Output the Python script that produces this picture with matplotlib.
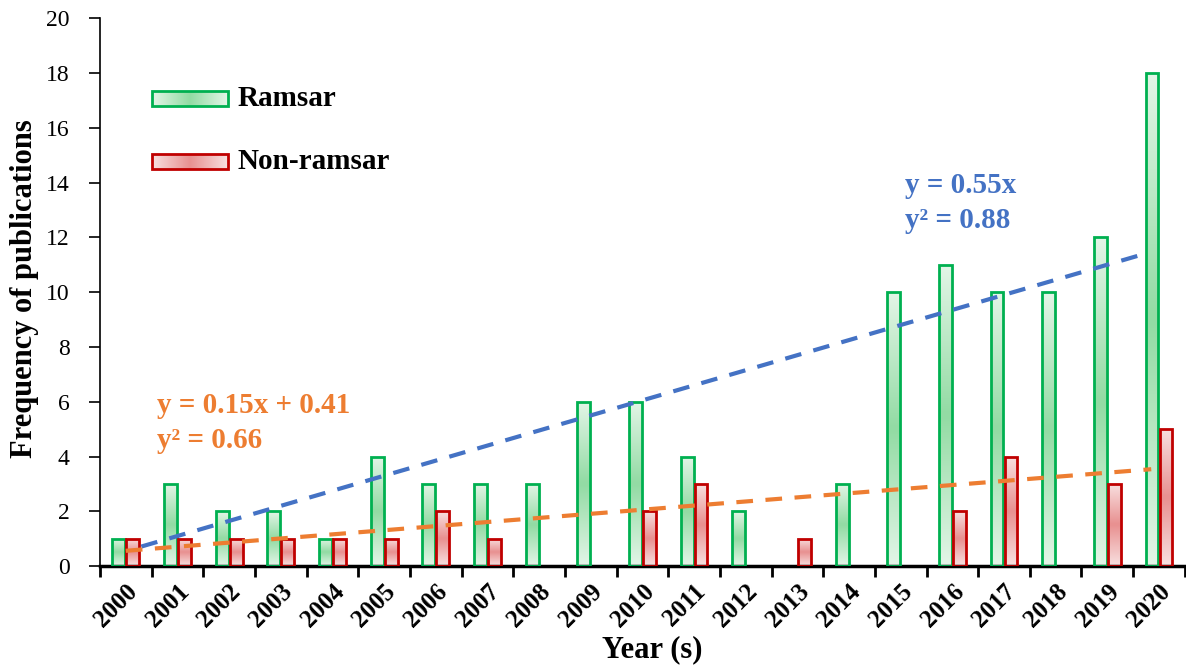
import numpy as np
import matplotlib
matplotlib.use("Agg")
import matplotlib.pyplot as plt
from matplotlib.patches import Rectangle
from matplotlib.colors import to_rgb

# ── Daten ─────────────────────────────────────────────────────────────────────
years = [str(y) for y in range(2000, 2021)]
ramsar = [1, 3, 2, 2, 1, 4, 3, 3, 3, 6, 6, 4, 2, 0, 3, 10, 11, 10, 10, 12, 18]
non_ramsar = [1, 1, 1, 1, 1, 1, 2, 1, 0, 0, 2, 3, 0, 1, 0, 0, 2, 4, 0, 3, 5]

# Trendlinien (aus der Grafik: y = a*x + b, x = 1..21)
ramsar_fit = (0.55, 0.0)
non_ramsar_fit = (0.15, 0.41)
ramsar_eq = ["y = 0.55x", "y² = 0.88"]
non_ramsar_eq = ["y = 0.15x + 0.41", "y² = 0.66"]

plt.rcParams["font.family"] = ["Liberation Serif", "DejaVu Serif"]

GREEN_EDGE, GREEN_LIGHT, GREEN_MID = "#00B050", "#E3F5E7", "#92DBA3"
RED_EDGE, RED_LIGHT, RED_MID = "#C00000", "#F8E0E0", "#E89090"
BLUE, ORANGE = "#4472C4", "#ED7D31"


def gradient(light, mid, n=64, horizontal=False):
    t = np.abs(np.linspace(-1, 1, n))[:, None]
    c = np.array(to_rgb(mid)) * (1 - t) + np.array(to_rgb(light)) * t
    return c[:, None, :] if not horizontal else c[None, :, :]


fig = plt.figure(figsize=(11.86, 6.70), dpi=100)
ax = fig.add_axes([0.0843, 0.155, 0.9147, 0.818])

x = np.arange(len(years))
w = 0.25
off = 0.135

# ── Balken mit Verlauf ────────────────────────────────────────────────────────
for xs, vals, edge, light, mid in [
    (x - off, ramsar, GREEN_EDGE, GREEN_LIGHT, GREEN_MID),
    (x + off, non_ramsar, RED_EDGE, RED_LIGHT, RED_MID),
]:
    vals = np.array(vals)
    keep = vals > 0          # Nullwerte werden nicht gezeichnet
    bars = ax.bar(xs[keep], vals[keep], width=w, facecolor="none",
                  edgecolor=edge, linewidth=2, zorder=3)
    img = gradient(light, mid)
    for b in bars:
        x0, y0 = b.get_x(), b.get_y()
        im = ax.imshow(img, extent=[x0, x0 + b.get_width(), y0, y0 + b.get_height()],
                       aspect="auto", origin="lower", zorder=2,
                       interpolation="bilinear")
        im.set_clip_path(b)

# ── Trendlinien ───────────────────────────────────────────────────────────────
xr = np.linspace(1.3, 20.75, 50)
ax.plot(xr - 1, ramsar_fit[0] * xr + ramsar_fit[1], "--", color=BLUE,
        lw=3, dashes=(4, 3), zorder=4)
xn = np.linspace(1.0, 20.85, 50)
ax.plot(xn - 1, non_ramsar_fit[0] * xn + non_ramsar_fit[1], "--", color=ORANGE,
        lw=3, dashes=(4, 3), zorder=4)

# ── Achsen ────────────────────────────────────────────────────────────────────
ax.set_yticks(range(0, 21, 2))
ax.tick_params(axis="y", labelsize=17, length=8, width=1.2, direction="out",
               pad=14)
ax.set_xticks(x)
ax.set_xticklabels(years, rotation=45, ha="right", rotation_mode="anchor",
                   fontsize=18, fontweight="bold")
ax.tick_params(axis="x", which="major", length=0, pad=10)
ax.set_xticks(np.arange(-0.5, len(years), 1), minor=True)
ax.tick_params(axis="x", which="minor", length=8, width=2, direction="out")

for s in ["top", "right"]:
    ax.spines[s].set_visible(False)
ax.spines["left"].set_linewidth(1.2)
ax.spines["bottom"].set_linewidth(2.5)

ax.set_ylabel("Frequency of publications", fontsize=22, fontweight="bold",
              va="center")
ax.yaxis.set_label_coords(-0.07, 0.507)
ax.set_xlabel("Year (s)", fontsize=22, fontweight="bold", va="center")
ax.xaxis.set_label_coords(0.509, -0.153)

# ── Legende (manuell, mit Verlauf) ────────────────────────────────────────────
for (ly, label, edge, light, mid) in [
    (0.854, "Ramsar", GREEN_EDGE, GREEN_LIGHT, GREEN_MID),
    (0.738, "Non-ramsar", RED_EDGE, RED_LIGHT, RED_MID),
]:
    x0, x1 = 0.048, 0.118
    h = 0.027
    rect = Rectangle((x0, ly - h / 2), x1 - x0, h, transform=ax.transAxes,
                     facecolor="none", edgecolor=edge, lw=2, zorder=6)
    ax.add_patch(rect)
    im = ax.imshow(gradient(light, mid, horizontal=True),
                   extent=[x0, x1, ly - h / 2, ly + h / 2],
                   transform=ax.transAxes, aspect="auto", zorder=5,
                   interpolation="bilinear")
    im.set_clip_path(rect)
    ax.text(x1 + 0.009, ly, label, transform=ax.transAxes, fontsize=21,
            fontweight="bold", va="center", ha="left")

ax.set_xlim(-0.5, len(years) - 0.5)
ax.set_ylim(0, 20)

# ── Gleichungen ───────────────────────────────────────────────────────────────
for txt, xx, yy, col in [
    (ramsar_eq[0], 0.742, 0.695, BLUE),
    (ramsar_eq[1], 0.742, 0.631, BLUE),
    (non_ramsar_eq[0], 0.0525, 0.294, ORANGE),
    (non_ramsar_eq[1], 0.0525, 0.23, ORANGE),
]:
    ax.text(xx, yy, txt, transform=ax.transAxes, color=col, fontsize=21,
            fontweight="bold", va="center")

fig.savefig("out.png", dpi=100)
